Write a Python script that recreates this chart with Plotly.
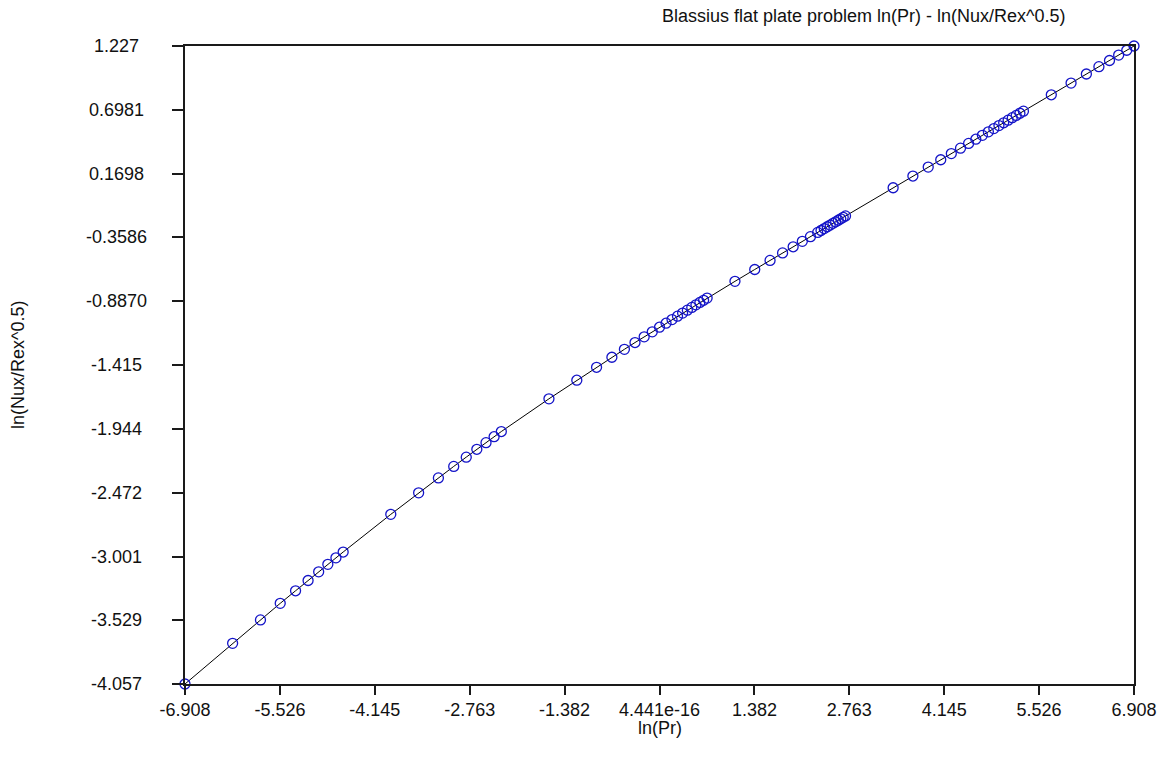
import plotly.graph_objects as go

# ln(Pr) for the Prandtl numbers solved
ln_pr = [
    -6.9078, -6.2146, -5.8091, -5.5215, -5.2983, -5.1160, -4.9618, -4.8283, -4.7105,
    -4.6052, -3.9120, -3.5066, -3.2189, -2.9957, -2.8134, -2.6593, -2.5257, -2.4079,
    -2.3026, -1.6094, -1.2040, -0.9163, -0.6931, -0.5108, -0.3567, -0.2231, -0.1054,
    0.0000, 0.0953, 0.1823, 0.2624, 0.3365, 0.4055, 0.4700, 0.5306, 0.5878, 0.6419,
    0.6931, 1.0986, 1.3863, 1.6094, 1.7918, 1.9459, 2.0794, 2.1972,
    2.3026, 2.3514, 2.3979, 2.4423, 2.4849, 2.5257, 2.5649, 2.6027, 2.6391, 2.6741,
    2.7081, 3.4012, 3.6889, 3.9120, 4.0943, 4.2485, 4.3820, 4.4998,
    4.6052, 4.7005, 4.7875, 4.8675, 4.9416, 5.0106, 5.0752, 5.1358, 5.1930, 5.2470,
    5.2983, 5.7038, 5.9915, 6.2146, 6.3969, 6.5511, 6.6846, 6.8024, 6.9078,
]

# ln(Nux/Rex^0.5) from the Blasius similarity solution
ln_nu = [
    -4.057, -3.720, -3.526, -3.389, -3.285, -3.200, -3.128, -3.066, -3.012,
    -2.964, -2.652, -2.474, -2.350, -2.255, -2.178, -2.113, -2.058, -2.009,
    -1.966, -1.695, -1.541, -1.434, -1.351, -1.285, -1.229, -1.182, -1.140,
    -1.102, -1.069, -1.039, -1.011, -0.985, -0.961, -0.938, -0.917, -0.897, -0.879,
    -0.861, -0.722, -0.624, -0.549, -0.487, -0.436, -0.391, -0.352,
    -0.317, -0.301, -0.285, -0.270, -0.256, -0.242, -0.229, -0.216, -0.204, -0.192,
    -0.180, 0.053, 0.150, 0.224, 0.285, 0.336, 0.381, 0.420,
    0.455, 0.487, 0.516, 0.543, 0.568, 0.591, 0.613, 0.633, 0.652, 0.670,
    0.687, 0.823, 0.920, 0.995, 1.056, 1.107, 1.152, 1.192, 1.227,
]

x_tick_vals = [-6.9078, -5.5262, -4.1447, -2.7631, -1.3816, 0.0,
               1.3816, 2.7631, 4.1447, 5.5262, 6.9078]
x_tick_text = ["-6.908", "-5.526", "-4.145", "-2.763", "-1.382", "4.441e-16",
               "1.382", "2.763", "4.145", "5.526", "6.908"]

y_tick_vals = [1.227, 0.6981, 0.1698, -0.3586, -0.8870, -1.415,
               -1.944, -2.472, -3.001, -3.529, -4.057]
y_tick_text = ["1.227", "0.6981", "0.1698", "-0.3586", "-0.8870", "-1.415",
               "-1.944", "-2.472", "-3.001", "-3.529", "-4.057"]

title_text = "Blassius flat plate problem ln(Pr) - ln(Nux/Rex^0.5)"
x_title = "ln(Pr)"
y_title = "ln(Nux/Rex^0.5)"

FONT = "Liberation Sans, Arial, sans-serif"
FS = 18
TEXT_COLOR = "#111"

fig = go.Figure()
fig.add_trace(go.Scatter(
    x=ln_pr, y=ln_nu,
    mode="lines+markers",
    line=dict(color="black", width=1),
    marker=dict(symbol="circle-open", size=10, color="#1414c8",
                line=dict(width=1.3, color="#1414c8")),
    cliponaxis=False,
    showlegend=False,
))

axis_common = dict(
    showgrid=False, zeroline=False,
    showline=True, linecolor="#1a1a1a", linewidth=1.5, mirror=True,
    ticks="outside", tickcolor="#1a1a1a", tickwidth=1.5,
    tickfont=dict(family=FONT, size=FS, color=TEXT_COLOR),
)

# y tick labels are centred in a column left of the axis
y_label_annotations = [
    dict(text=txt, xref="paper", yref="y", x=-0.0727, y=val,
         xanchor="center", yanchor="middle", showarrow=False,
         font=dict(family=FONT, size=FS, color=TEXT_COLOR))
    for val, txt in zip(y_tick_vals, y_tick_text)
]

fig.update_layout(
    width=1169, height=767, autosize=False,
    margin=dict(l=185, r=35, t=46, b=83),
    paper_bgcolor="white", plot_bgcolor="white",
    font=dict(family=FONT, size=FS, color=TEXT_COLOR),
    xaxis=dict(range=[-6.9078, 6.9078], tickmode="array",
               tickvals=x_tick_vals, ticktext=x_tick_text,
               ticklen=9, **axis_common),
    yaxis=dict(range=[-4.057, 1.227], tickmode="array",
               tickvals=y_tick_vals, ticktext=y_tick_text,
               showticklabels=False, ticklen=11, **axis_common),
    annotations=[
        dict(text=title_text, xref="paper", yref="paper", x=0.5, y=1.0,
             xanchor="left", yanchor="middle", yshift=30, showarrow=False,
             font=dict(family=FONT, size=FS, color=TEXT_COLOR)),
        dict(text=x_title, xref="paper", yref="paper", x=0.5, y=0.0,
             xanchor="center", yanchor="middle", yshift=-44, showarrow=False,
             font=dict(family=FONT, size=FS, color=TEXT_COLOR)),
        dict(text=y_title, xref="paper", yref="paper", x=0.0, y=0.5,
             xanchor="center", yanchor="middle", xshift=-167, textangle=-90,
             showarrow=False, font=dict(family=FONT, size=FS, color=TEXT_COLOR)),
    ] + y_label_annotations,
)

fig.write_html("out.html")
